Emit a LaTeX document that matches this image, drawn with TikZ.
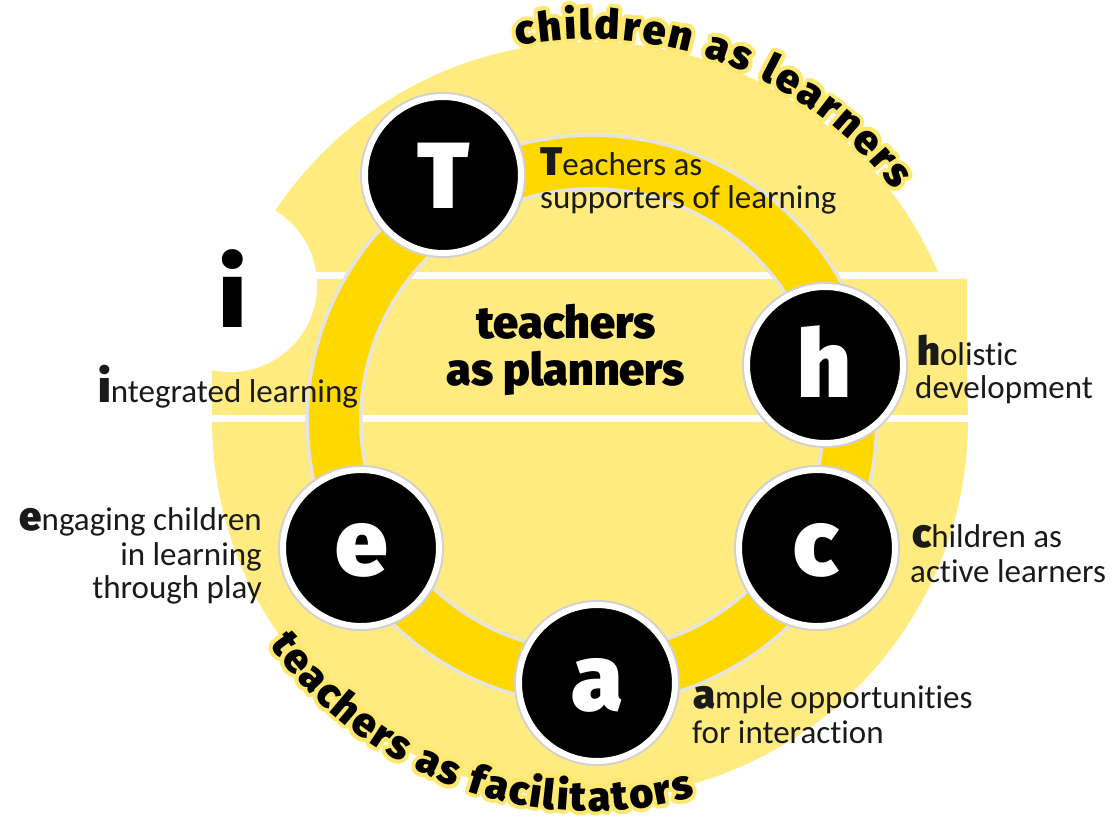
\documentclass[tikz,border=0pt]{standalone}
\usepackage{fontspec}
\usetikzlibrary{decorations.text}
\IfFontExistsTF{Fira Sans Black}{\newfontfamily\heavyfont{Fira Sans Black}}{%
  \IfFontExistsTF{Lato Black}{\newfontfamily\heavyfont{Lato Black}}{%
    \newfontfamily\heavyfont{DejaVu Sans Bold}}}
\newfontfamily\bodyfont{Carlito}[Ligatures={NoCommon,NoRequired}]
\definecolor{pale}{HTML}{FFEB80}
\definecolor{gold}{HTML}{FFD800}
\definecolor{halo}{HTML}{FFE870}
\definecolor{ringedge}{HTML}{E4E4E4}
\definecolor{ink}{HTML}{1A1A1A}
\newcommand\initialletter[2]{{\heavyfont\fontsize{#1}{#1}\selectfont #2}}
\tikzset{
  disc/.style={circle, fill=black, draw=white, line width=6pt, minimum size=156pt,
    inner sep=0pt, preaction={draw=black!18, line width=10pt}},
  bigletter/.style={text=white, inner sep=0pt, anchor=base,
    font=\heavyfont\fontsize{94}{94}\selectfont},
  desc/.style={inner sep=0pt, text=ink, font=\bodyfont\fontsize{33}{34}\selectfont},
  planner/.style={inner sep=0pt, anchor=base, text=black,
    font=\heavyfont\fontsize{45}{45}\selectfont},
}
\begin{document}
\begin{tikzpicture}[x=1pt,y=1pt]
\useasboundingbox (0,0) rectangle (1112,-820);
% pale disc and middle band
\fill[pale] (590,-420) circle[radius=378];
\fill[pale] (212,-275) rectangle (967,-418);
\draw[white, line width=7pt] (200,-275) -- (990,-275);
\draw[white, line width=7pt] (200,-418) -- (990,-418);
% notch
\fill[white] (230,-285) circle[radius=87];
% ring
\draw[ringedge, line width=57pt] (592,-420) circle[radius=258];
\draw[gold, line width=50pt] (592,-420) circle[radius=258];
% discs
\node[disc] (dT) at (443,-175) {};
\node[disc] (dh) at (825,-365) {};
\node[disc] (dc) at (817,-548) {};
\node[disc] (da) at (597,-683) {};
\node[disc] (de) at (361,-548) {};
% disc letters
\node[bigletter] (lT) at (444,-208) {T};
\node[bigletter] (lh) at (824,-397) {h};
\node[bigletter] (lc) at (816,-575) {c};
\node[bigletter] (la) at (597,-710) {a};
\node[bigletter] (le) at (362,-575) {e};
\node[bigletter, text=black] (li) at (233,-327) {i};
% centre
\node[planner] (p1) at (566,-338) {teachers};
\node[planner] (p2) at (566,-385) {as planners};
% descriptions
\node[desc, anchor=base west] (tT1) at (540,-175) {\initialletter{40}{T}eachers as};
\node[desc, anchor=base west] (tT2) at (540,-208) {supporters of learning};
\node[desc, anchor=base west] (th1) at (917,-365) {\initialletter{40}{h}olistic};
\node[desc, anchor=base west] (th2) at (915,-398) {development};
\node[desc, anchor=base west] (tc1) at (912,-547) {\initialletter{40}{c}hildren as};
\node[desc, anchor=base west] (tc2) at (910,-582) {active learners};
\node[desc, anchor=base west] (ta1) at (693,-708) {\initialletter{40}{a}mple opportunities};
\node[desc, anchor=base west] (ta2) at (692,-743) {for interaction};
\node[desc, anchor=base east] (te1) at (262,-530) {\initialletter{40}{e}ngaging children};
\node[desc, anchor=base east] (te2) at (262,-565) {in learning};
\node[desc, anchor=base east] (te3) at (262,-598) {through play};
\node[desc, anchor=base west] (ti1) at (98,-402) {\initialletter{45}{i}ntegrated learning};
% curved titles with halo
\foreach \ang in {0,22.5,...,337.5} {
  \path[shift={(\ang:4)}, decorate, decoration={text along path, text align={fit to path},
    text={|\heavyfont\fontsize{41}{41}\selectfont\color{halo}|children as learners}}]
    ([shift={(590,-420)}]101:381) arc[start angle=101, end angle=37, radius=381];
  \path[shift={(\ang:4)}, decorate, decoration={text along path, text align={fit to path},
    text={|\heavyfont\fontsize{41}{41}\selectfont\color{halo}|teachers as facilitators}}]
    ([shift={(590,-420)}]215:391) arc[start angle=215, end angle=285.5, radius=391];
}
\path[decorate, decoration={text along path, text align={fit to path},
    text={|\heavyfont\fontsize{41}{41}\selectfont|children as learners}}]
    ([shift={(590,-420)}]101:381) arc[start angle=101, end angle=37, radius=381];
\path[decorate, decoration={text along path, text align={fit to path},
    text={|\heavyfont\fontsize{41}{41}\selectfont|teachers as facilitators}}]
    ([shift={(590,-420)}]215:391) arc[start angle=215, end angle=285.5, radius=391];
\end{tikzpicture}
\end{document}
